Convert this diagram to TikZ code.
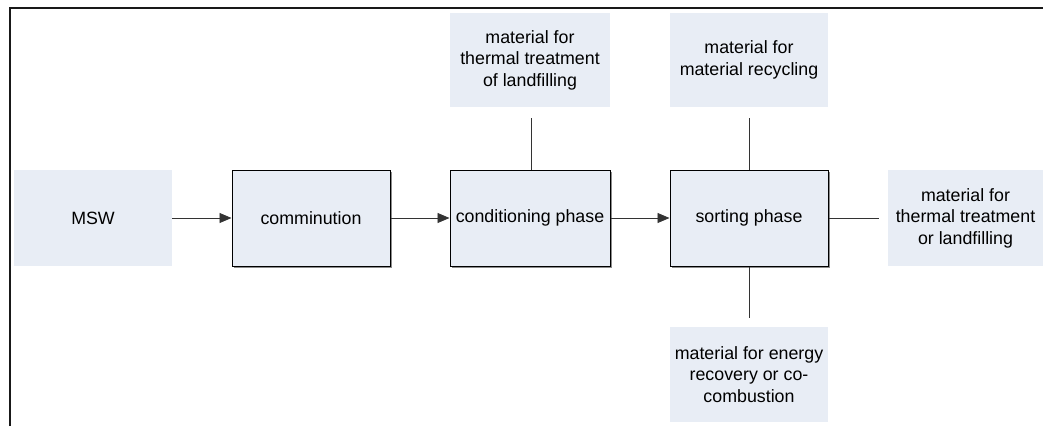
\documentclass[tikz,border=0pt]{standalone}
\usepackage{fontspec}
\setmainfont{Liberation Sans}
\usetikzlibrary{arrows.meta,shadows}
\definecolor{boxfill}{RGB}{232,237,245}
\definecolor{shadowgray}{RGB}{140,140,140}
\tikzset{
  plainbox/.style={fill=boxfill, draw=none, inner sep=0pt, align=center,
    font=\fontsize{17.8pt}{21.6pt}\selectfont},
  procbox/.style={plainbox, draw=black, line width=1pt,
    general shadow={fill=shadowgray, shadow xshift=1.5pt, shadow yshift=-1.5pt}},
  flow/.style={line width=0.9pt, draw=black!80, -{Triangle[length=12pt,width=10pt]}},
  link/.style={line width=0.9pt, draw=black!80},
  frame/.style={line width=2.4pt, draw=black!90}
}
\begin{document}
\begin{tikzpicture}[x=1pt,y=-1pt]
\useasboundingbox (0,0) rectangle (1043,426);
% frame
\coordinate (fbl) at (10,426);
\coordinate (ftr) at (1043,8);
\draw[frame] (fbl) -- (10,8) -- (ftr);
% nodes
\node[plainbox, minimum width=158pt, minimum height=96pt] (msw) at (93,218) {MSW};
\node[procbox, minimum width=158pt, minimum height=96pt] (comm) at (311,218) {comminution};
\node[procbox, minimum width=160pt, minimum height=96pt] (cond) at (530,218) {conditioning phase};
\node[procbox, minimum width=158pt, minimum height=96pt] (sort) at (749,218) {sorting phase};
\node[plainbox, minimum width=155pt, minimum height=96pt] (outr) at (965.5,218) {material for\\thermal treatment\\or landfilling};
\node[plainbox, minimum width=160pt, minimum height=94pt] (outa) at (530,60) {material for\\thermal treatment\\of landfilling};
\node[plainbox, minimum width=158pt, minimum height=94pt] (outb) at (749,60) {material for\\material recycling};
\node[plainbox, minimum width=158pt, minimum height=95pt] (outc) at (749,374.5) {material for energy\\recovery or co-\\combustion};
% free ends
\coordinate (ca) at (531,118);
\coordinate (cb) at (749,118);
\coordinate (cc) at (749,318);
\coordinate (cr) at (879,218);
% connectors
\draw[flow] (msw.east) -- (comm.west);
\draw[flow] (comm.east) -- (cond.west);
\draw[flow] (cond.east) -- (sort.west);
\draw[link] (ca) -- (ca |- cond.north);
\draw[link] (cb) -- (sort.north);
\draw[link] (sort.south) -- (cc);
\draw[link] (sort.east) -- (cr);
\end{tikzpicture}
\end{document}
